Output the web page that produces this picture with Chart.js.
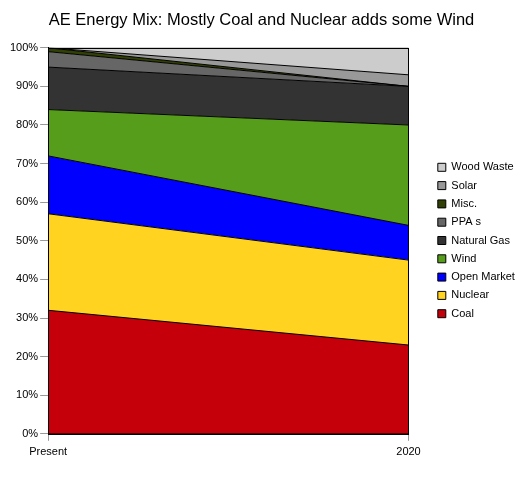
<!DOCTYPE html>
<html>
<head>
<meta charset="utf-8">
<script src="https://cdn.jsdelivr.net/npm/chart.js@4/dist/chart.umd.min.js"></script>
<style>
  html, body { margin: 0; padding: 0; background: #fff; }
  #wrap { width: 529px; height: 479px; }
</style>
</head>
<body>
<div id="wrap"><canvas id="chart"></canvas></div>
<script>
const YEARS = ['Present', '2020'];
const SOURCES = ['Coal', 'Nuclear', 'Open Market', 'Wind', 'Natural Gas', 'PPA s', 'Misc.', 'Solar', 'Wood Waste'];
const COLORS = ['#c5000b', '#ffd320', '#0000ff', '#579d1c', '#333333', '#666666', '#314004', '#999999', '#cccccc'];

// share in percent, [Present, 2020]
const COAL = [32, 23];
const NUCLEAR = [25, 22];
const OPEN_MARKET = [15, 9];
const WIND = [12, 26];
const NATURAL_GAS = [11, 10];
const PPAS = [4, 0];
const MISC = [1, 0];
const SOLAR = [0, 3];
const WOOD_WASTE = [0, 7];

const SERIES = [COAL, NUCLEAR, OPEN_MARKET, WIND, NATURAL_GAS, PPAS, MISC, SOLAR, WOOD_WASTE];
const Y_TICKS = [0, 10, 20, 30, 40, 50, 60, 70, 80, 90, 100];

const FONT = 'Arial, "Liberation Sans", sans-serif';
const TEXT = '#000000';

// frame round the plot (top and right sides)
const frame = {
  id: 'frame',
  afterDatasetsDraw(chart) {
    const { ctx, chartArea: a } = chart;
    ctx.save();
    ctx.strokeStyle = '#000';
    ctx.lineWidth = 1;
    ctx.strokeRect(Math.round(a.left) + 0.5, Math.round(a.top) + 0.5,
      Math.round(a.right - a.left), Math.round(a.bottom - a.top));
    ctx.restore();
  },
};

new Chart(document.getElementById('chart'), {
  type: 'line',
  data: {
    labels: YEARS,
    datasets: SERIES.map((d, i) => ({
      label: SOURCES[i],
      data: d,
      backgroundColor: COLORS[i],
      borderColor: '#000',
      borderWidth: 1,
      pointRadius: 0,
      tension: 0,
      fill: i === 0 ? 'origin' : '-1',
    })),
  },
  options: {
    responsive: true,
    maintainAspectRatio: false,
    animation: false,
    layout: { padding: { left: 8, right: 14, top: 4, bottom: 15 } },
    plugins: {
      title: {
        display: true,
        text: 'AE Energy Mix: Mostly Coal and Nuclear adds some Wind',
        color: TEXT,
        font: { family: FONT, size: 16.5, weight: 'normal' },
        padding: { top: 7, bottom: 17 },
      },
      legend: {
        position: 'right',
        reverse: true,
        // blank title only nudges the items down a little
        title: { display: true, text: ' ', font: { size: 10, lineHeight: 1.3 }, padding: 0 },
        labels: {
          color: TEXT,
          font: { family: FONT, size: 11 },
          boxWidth: 8,
          boxHeight: 8,
          padding: 7.3,
        },
      },
      tooltip: { enabled: false },
    },
    scales: {
      x: {
        offset: false,
        grid: { display: true, drawOnChartArea: false, drawTicks: true, tickLength: 7, color: '#999' },
        border: { display: true, color: '#000' },
        ticks: { color: TEXT, font: { family: FONT, size: 11 }, padding: 5, maxRotation: 0 },
      },
      y: {
        stacked: true,
        min: 0,
        max: 100,
        afterBuildTicks(scale) {
          scale.ticks = Y_TICKS.map((v) => ({ value: v }));
        },
        grid: { display: true, drawOnChartArea: false, drawTicks: true, tickLength: 8, color: '#999' },
        border: { display: true, color: '#000' },
        ticks: { color: TEXT, font: { family: FONT, size: 11 }, padding: 2, callback: (v) => `${v}%` },
      },
      // empty strip between the plot and the legend
      gap: {
        type: 'linear',
        position: 'right',
        display: true,
        grid: { display: false },
        border: { display: false },
        ticks: { display: false },
        afterFit(scale) {
          scale.width = 22;
        },
      },
    },
  },
  plugins: [frame],
});
</script>
</body>
</html>
